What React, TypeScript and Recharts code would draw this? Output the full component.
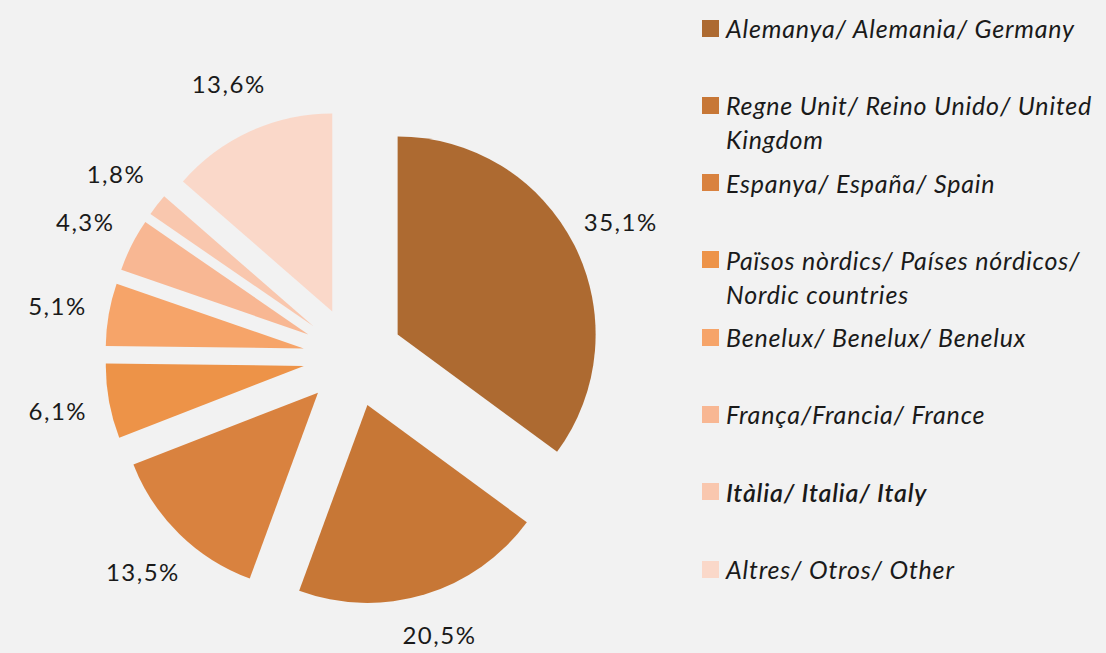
import { PieChart, Pie, Cell, Sector, Legend } from 'recharts';

const countries = [
  'Alemanya/ Alemania/ Germany',
  'Regne Unit/ Reino Unido/ United Kingdom',
  'Espanya/ España/ Spain',
  'Països nòrdics/ Países nórdicos/ Nordic countries',
  'Benelux/ Benelux/ Benelux',
  'França/Francia/ France',
  'Itàlia/ Italia/ Italy',
  'Altres/ Otros/ Other',
];
const shares = [35.1, 20.5, 13.5, 6.1, 5.1, 4.3, 1.8, 13.6];
const colors = ['#AD6A31', '#C77736', '#D9823F', '#ED9348', '#F6A469', '#F8B793', '#F9C7AE', '#FAD8C9'];

const data = countries.map((name, i) => ({ name, value: shares[i] }));

const WIDTH = 1106;
const HEIGHT = 653;
const RAD = Math.PI / 180;
const EXPLODE = 50;
const LABEL_R = 300;
const FONT = 'Lato, "Open Sans", sans-serif';

// slices are pulled out from the centre, so each one is drawn here
const renderSlice = (props: any) => {
  const { cx, cy, startAngle, endAngle, midAngle, outerRadius, index } = props;
  const cos = Math.cos(-midAngle * RAD);
  const sin = Math.sin(-midAngle * RAD);
  // keep the label inside the picture
  const ly = Math.min(cy + LABEL_R * sin, HEIGHT - 19);
  return (
    <g>
      <Sector
        cx={cx + EXPLODE * cos}
        cy={cy + EXPLODE * sin}
        innerRadius={0}
        outerRadius={outerRadius}
        startAngle={startAngle}
        endAngle={endAngle}
        fill={colors[index]}
        fillOpacity={1}
        stroke="none"
      />
      <text
        x={cx + LABEL_R * cos}
        y={ly}
        textAnchor="middle"
        dominantBaseline="central"
        fill="#1a1a1a"
        fontSize={24}
        letterSpacing={1.5}
        fontFamily={FONT}
      >
        {shares[index].toFixed(1).replace('.', ',')}%
      </text>
    </g>
  );
};

const renderLegend = () => (
  <div style={{ fontFamily: FONT, fontStyle: 'italic', fontSize: 25, letterSpacing: 0.8, color: '#1a1a1a' }}>
    {countries.map((name, i) => (
      <div key={name} style={{ display: 'flex', alignItems: 'flex-start', height: 77.3 }}>
        <span
          style={{ width: 17, height: 17, background: colors[i], marginTop: 8.5, marginRight: 7, flex: 'none' }}
        />
        <span style={{ lineHeight: '34px', width: 376, fontWeight: i === 6 ? 600 : 400 }}>{name}</span>
      </div>
    ))}
  </div>
);

export default function App() {
  return (
    <div style={{ width: WIDTH, height: HEIGHT, background: '#F2F2F2' }}>
      <style>{`body{margin:0}`}</style>
      <PieChart width={WIDTH} height={HEIGHT} margin={{ top: 0, right: 0, bottom: 0, left: 0 }}>
        <Pie
          data={data}
          dataKey="value"
          nameKey="name"
          cx={353}
          cy={357}
          outerRadius={198}
          startAngle={90}
          endAngle={-270}
          stroke="none"
          fillOpacity={0}
          labelLine={false}
          label={renderSlice}
          isAnimationActive={false}
        >
          {data.map((d, i) => (
            <Cell key={d.name} fill={colors[i]} />
          ))}
        </Pie>
        <Legend
          layout="vertical"
          align="right"
          verticalAlign="middle"
          content={renderLegend}
          wrapperStyle={{ position: 'absolute', left: 702, top: 11, width: 404 }}
        />
      </PieChart>
    </div>
  );
}
